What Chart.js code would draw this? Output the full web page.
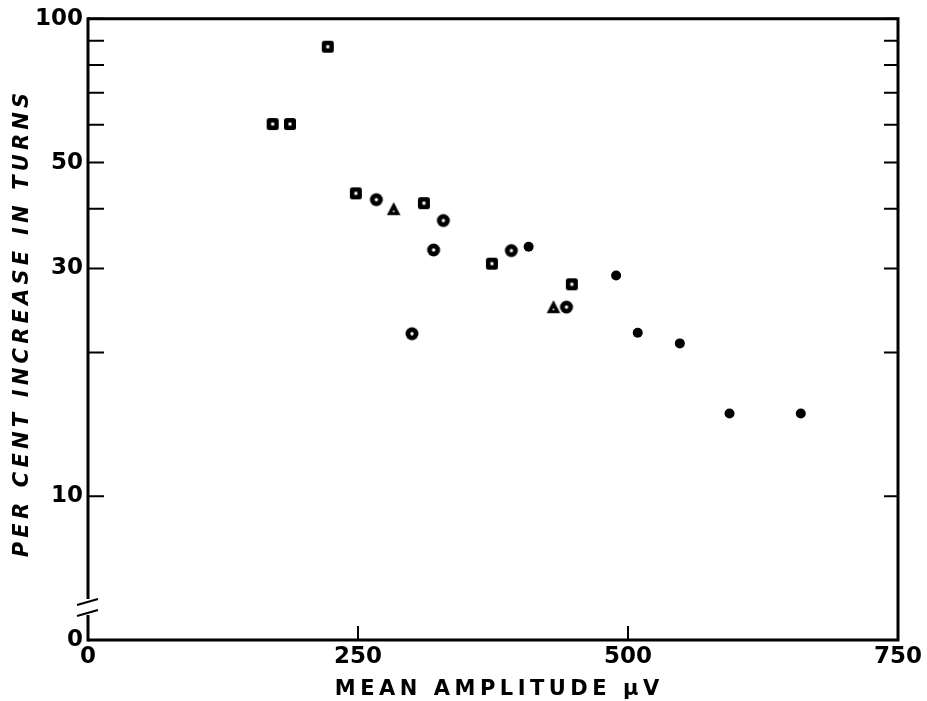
<!DOCTYPE html>
<html>
<head>
<meta charset="utf-8">
<script src="https://cdn.jsdelivr.net/npm/chart.js@4"></script>
<style>
  html, body { margin: 0; padding: 0; background: #fff; }
  #c { display: block; }
</style>
</head>
<body>
<canvas id="c" width="927" height="701"></canvas>
<script>
// values
const squareX = [171, 187, 222, 248, 311, 374, 448];
const squareY = [60.2, 60.2, 87.4, 43.1, 41.1, 30.7, 27.8];
const ringX = [267, 300, 320, 329, 392, 443];
const ringY = [41.8, 21.9, 32.8, 37.8, 32.7, 24.9];
const triX = [283, 431];
const triY = [39.8, 24.8];
const dotX = [408, 489, 509, 548, 594, 660];
const dotY = [33.3, 29.0, 22.0, 20.9, 14.9, 14.9];

const xTickValues = [0, 250, 500, 750];
const yTickValues = [5, 10, 20, 30, 40, 50, 60, 70, 80, 90, 100];
const yLabelValues = [5, 10, 30, 50, 100];
const yLabelText = ['0', '10', '30', '50', '100'];

const xTitle = 'MEAN AMPLITUDE \u03bcV';
const yTitle = 'PER CENT INCREASE IN TURNS';

const toPoints = (xs, ys) => xs.map((x, i) => ({ x: x, y: ys[i] }));

// little canvases used as point styles
function marker(draw) {
  const c = document.createElement('canvas');
  c.width = 16; c.height = 16;
  const g = c.getContext('2d');
  draw(g);
  return c;
}

const squareMark = marker(g => {
  g.fillStyle = '#000';
  g.beginPath();
  g.roundRect(2, 2, 12, 12, 2.5);
  g.fill();
  g.fillStyle = '#fff';
  g.fillRect(6.5, 6.5, 3, 3);
});

const ringMark = marker(g => {
  g.fillStyle = '#000';
  g.beginPath(); g.arc(8, 8, 6.5, 0, Math.PI * 2); g.fill();
  g.fillStyle = '#fff';
  g.beginPath(); g.arc(8, 8, 1.7, 0, Math.PI * 2); g.fill();
});

const triMark = marker(g => {
  g.fillStyle = '#000';
  g.beginPath();
  g.moveTo(8, 0.3); g.lineTo(14.8, 13.2); g.lineTo(1.2, 13.2);
  g.closePath(); g.fill();
  g.fillStyle = '#fff';
  g.beginPath(); g.arc(8, 9.4, 0.9, 0, Math.PI * 2); g.fill();
});

function spaced(ctx, text, cx, cy, gap) {
  const widths = [...text].map(ch => ctx.measureText(ch).width);
  const total = widths.reduce((a, b) => a + b, 0) + gap * (widths.length - 1);
  let x = cx - total / 2;
  [...text].forEach((ch, i) => {
    ctx.fillText(ch, x, cy);
    x += widths[i] + gap;
  });
}

const frame = {
  id: 'frame',
  afterDraw(chart) {
    const { ctx, chartArea: a, scales: { x, y } } = chart;
    ctx.save();
    ctx.strokeStyle = '#000';
    ctx.lineWidth = 3;
    ctx.beginPath();
    ctx.moveTo(a.left, a.top);
    ctx.lineTo(a.right, a.top);
    ctx.lineTo(a.right, a.bottom);
    ctx.lineTo(a.left, a.bottom);
    ctx.stroke();

    // left axis with a break near the bottom
    const gapTop = a.bottom - 41, gapBot = a.bottom - 25;
    ctx.beginPath();
    ctx.moveTo(a.left, a.top - 1.5); ctx.lineTo(a.left, gapTop);
    ctx.moveTo(a.left, gapBot); ctx.lineTo(a.left, a.bottom + 1.5);
    ctx.stroke();
    ctx.lineWidth = 2;
    ctx.beginPath();
    ctx.moveTo(a.left - 11, gapTop + 6); ctx.lineTo(a.left + 10, gapTop);
    ctx.moveTo(a.left - 11, gapBot + 1); ctx.lineTo(a.left + 10, gapBot - 5);
    ctx.stroke();

    // inward ticks
    ctx.beginPath();
    y.ticks.forEach(t => {
      if (t.value < 10) return;
      const py = y.getPixelForValue(t.value);
      ctx.moveTo(a.left, py); ctx.lineTo(a.left + 16, py);
      ctx.moveTo(a.right, py); ctx.lineTo(a.right - 14, py);
    });
    x.ticks.forEach(t => {
      if (t.value <= x.min || t.value >= x.max) return;
      const px = x.getPixelForValue(t.value);
      ctx.moveTo(px, a.bottom); ctx.lineTo(px, a.bottom - 14);
    });
    ctx.stroke();

    // axis titles
    ctx.fillStyle = '#000';
    ctx.textBaseline = 'alphabetic';
    ctx.font = 'bold 21px "DejaVu Sans"';
    spaced(ctx, xTitle, 497, 695, 4.5);

    ctx.translate(23, 325);
    ctx.rotate(-Math.PI / 2);
    ctx.textBaseline = 'middle';
    ctx.font = 'oblique bold 21px "DejaVu Sans"';
    spaced(ctx, yTitle, 0, 0, 4.2);
    ctx.restore();
  }
};

Chart.defaults.font.family = '"DejaVu Sans"';
Chart.defaults.color = '#000';

new Chart(document.getElementById('c'), {
  type: 'scatter',
  data: {
    datasets: [
      { data: toPoints(squareX, squareY), pointStyle: squareMark, pointRadius: 6 },
      { data: toPoints(ringX, ringY), pointStyle: ringMark, pointRadius: 6 },
      { data: toPoints(triX, triY), pointStyle: triMark, pointRadius: 6 },
      { data: toPoints(dotX, dotY), pointStyle: 'circle', pointRadius: 5,
        backgroundColor: '#000', borderColor: '#000', borderWidth: 0 }
    ]
  },
  options: {
    responsive: false,
    animation: false,
    layout: { padding: { top: 16, right: 29, left: 0, bottom: 0 } },
    plugins: { legend: { display: false }, tooltip: { enabled: false } },
    scales: {
      x: {
        type: 'linear',
        min: 0, max: 750,
        afterBuildTicks: s => { s.ticks = xTickValues.map(v => ({ value: v })); },
        afterFit: s => { s.height = 61; },
        grid: { display: false, drawTicks: false },
        border: { display: false },
        ticks: { font: { size: 23, weight: 'bold' }, padding: 3, maxRotation: 0, autoSkip: false }
      },
      y: {
        type: 'logarithmic',
        min: 5, max: 100,
        afterBuildTicks: s => { s.ticks = yTickValues.map(v => ({ value: v })); },
        afterFit: s => { s.width = 88; },
        grid: { display: false, drawTicks: false },
        border: { display: false },
        ticks: {
          font: { size: 23, weight: 'bold' }, padding: 5, autoSkip: false,
          callback: v => {
            const i = yLabelValues.indexOf(v);
            return i < 0 ? '' : yLabelText[i];
          }
        }
      }
    }
  },
  plugins: [frame]
});
</script>
</body>
</html>
